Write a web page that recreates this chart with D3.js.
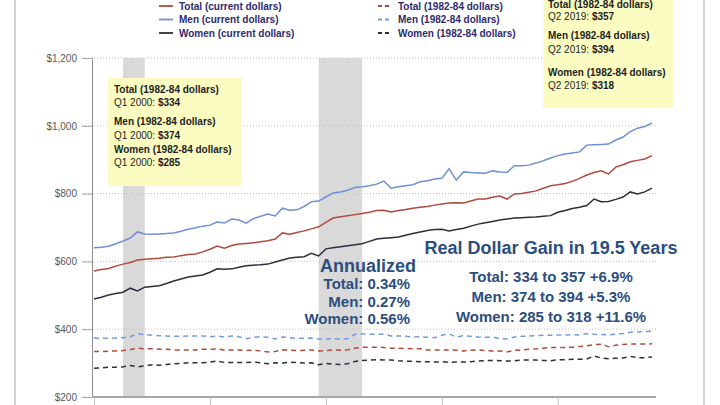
<!DOCTYPE html>
<html><head><meta charset="utf-8">
<script src="https://cdn.jsdelivr.net/npm/d3@7"></script>
<style>html,body{margin:0;padding:0;background:#fff;}svg{display:block;}</style>
</head><body>
<svg id="c" width="720" height="405"></svg>
<script>
// ---- DATA ----
const quarters = [];
for (let y = 2000; y <= 2019; y++) for (let q = 1; q <= 4; q++) if (!(y === 2019 && q > 2)) quarters.push(y + " Q" + q);

const totalCurrent = [572,576,579,586,592,597,604,606,608,609,612,613,617,620,622,628,636,645,639,647,651,653,655,658,661,666,684,680,685,690,696,702,715,728,732,735,738,741,745,750,751,746,750,753,757,760,762,766,769,772,773,772,778,784,784,789,793,784,799,800,804,808,816,823,826,830,836,845,855,862,867,858,878,885,894,898,902,912];
const menCurrent = [640,642,645,652,660,669,687,681,680,681,682,684,689,695,699,704,707,716,713,725,722,713,726,733,740,734,757,751,752,762,776,778,790,802,805,810,818,820,823,828,837,816,820,823,826,835,838,843,845,873,840,864,862,861,860,867,864,863,882,882,884,890,897,905,912,917,920,923,943,944,945,946,958,967,983,993,998,1008];
const womenCurrent = [489,494,501,505,509,521,513,524,526,528,535,542,548,554,557,560,568,578,577,578,583,587,589,590,592,598,604,610,612,614,624,616,637,640,643,646,649,652,659,666,668,670,672,677,682,687,691,694,695,690,694,698,704,710,714,718,722,725,728,729,730,731,733,735,745,750,756,760,765,784,776,777,783,790,805,799,805,816];
const totalReal = [334,334,335,336,337,340,344,342,342,341,341,339,339,339,339,341,341,342,338,339,339,337,338,336,333,334,339,338,337,338,339,336,337,339,338,339,344,347,347,347,346,344,344,343,342,342,339,339,339,339,338,336,338,339,337,336,336,333,338,339,341,342,344,346,346,346,347,349,351,354,356,348,353,355,356,356,356,357];
const menReal = [374,373,373,374,375,378,387,384,382,381,380,379,379,380,380,380,378,380,377,380,378,372,376,378,376,371,377,375,373,373,374,371,371,372,371,372,385,386,385,385,386,380,380,379,377,378,376,375,382,386,377,381,379,377,376,376,373,371,377,379,380,381,382,382,383,383,384,383,387,385,384,383,385,387,391,392,393,394];
const womenReal = [285,286,288,288,289,293,289,292,295,294,296,298,299,301,301,301,303,306,302,302,302,302,303,301,298,301,300,303,302,300,301,295,299,297,296,298,305,308,309,310,309,309,307,306,305,304,304,303,304,302,303,303,304,306,307,308,307,306,307,309,309,309,308,307,310,310,311,311,312,321,315,313,314,315,320,316,316,318];

const yTicks = [200, 400, 600, 800, 1000, 1200];
const xTickQuarters = ["2000 Q1", "2004 Q1", "2008 Q1", "2012 Q1", "2016 Q1"];
const recessions = [["2001 Q1", "2001 Q4"], ["2007 Q4", "2009 Q2"]];

const seriesNames = ["Total (current dollars)", "Men (current dollars)", "Women (current dollars)",
                     "Total (1982-84 dollars)", "Men (1982-84 dollars)", "Women (1982-84 dollars)"];
const seriesValues = [totalCurrent, menCurrent, womenCurrent, totalReal, menReal, womenReal];

const startNotes = [["Total (1982-84 dollars)", "Q1 2000: ", "$334"], ["Men (1982-84 dollars)", "Q1 2000: ", "$374"], ["Women (1982-84 dollars)", "Q1 2000: ", "$285"]];
const endNotes = [["Total (1982-84 dollars)", "Q2 2019: ", "$357"], ["Men (1982-84 dollars)", "Q2 2019: ", "$394"], ["Women (1982-84 dollars)", "Q2 2019: ", "$318"]];
const annualTitle = "Annualized";
const annualLines = ["Total: 0.34%", "Men: 0.27%", "Women: 0.56%"];
const gainTitle = "Real Dollar Gain in 19.5 Years";
const gainLines = ["Total: 334 to 357 +6.9%", "Men: 374 to 394 +5.3%", "Women: 285 to 318 +11.6%"];

// ---- STYLE ----
const colors = ["#b04a3c", "#6d90d6", "#2b2f3b", "#b04a3c", "#7b98d6", "#2b2f3b"];
const dashed = [false, false, false, true, true, true];
const font = "'Liberation Sans', Arial, sans-serif";
const navy = "#2e2b6c";
const blueText = "#2c4e7d";

const svg = d3.select("#c");
const x = d3.scalePoint().domain(quarters).range([94, 652]);
const y = d3.scaleLinear().domain([200, 1200]).range([397, 58]);

// outer frame lines
svg.append("line").attr("x1", 15).attr("x2", 15).attr("y1", 0).attr("y2", 405).attr("stroke", "#c4c4c4").attr("stroke-width", 1.5);
svg.append("line").attr("x1", 704).attr("x2", 704).attr("y1", 0).attr("y2", 405).attr("stroke", "#c4c4c4").attr("stroke-width", 1.5);

// recession shading
svg.append("g").selectAll("rect").data(recessions).join("rect")
  .attr("x", d => x(d[0])).attr("width", d => x(d[1]) - x(d[0]))
  .attr("y", y(1200)).attr("height", y(200) - y(1200)).attr("fill", "#d9d9d9");

// grid
svg.append("g").selectAll("line").data(yTicks.filter(v => v > 200)).join("line")
  .attr("x1", 82).attr("x2", 656).attr("y1", d => y(d)).attr("y2", d => y(d))
  .attr("stroke", "#c0c0c0").attr("stroke-dasharray", "1,2");

// y axis
const yAxis = svg.append("g").attr("transform", "translate(92,0)")
  .call(d3.axisLeft(y).tickValues(yTicks).tickSize(10).tickPadding(5).tickFormat(d => "$" + d3.format(",")(d)));
yAxis.select(".domain").attr("stroke", "#8c8c8c");
yAxis.selectAll(".tick line").attr("stroke", "#a6a6a6");
yAxis.selectAll("text").attr("font-family", font).attr("font-size", 10).attr("fill", "#595959");

// x axis
const xAxis = svg.append("g").attr("transform", "translate(0,397)")
  .call(d3.axisBottom(x).tickValues(xTickQuarters).tickSize(10).tickSizeOuter(0).tickFormat(""));
xAxis.select(".domain").attr("stroke", "#a6a6a6").attr("stroke-width", 2).attr("d", "M92,0H656");
xAxis.selectAll(".tick line").attr("stroke", "#bfbfbf");

// lines
const line = d3.line().x((d, i) => x(quarters[i])).y(d => y(d));
svg.append("g").selectAll("path").data(seriesValues).join("path")
  .attr("d", d => line(d)).attr("fill", "none")
  .attr("stroke", (d, i) => colors[i]).attr("stroke-width", 1.5)
  .attr("stroke-dasharray", (d, i) => dashed[i] ? "5,4" : null);

// legend
const leg = svg.append("g");
seriesNames.forEach((n, i) => {
  const col = Math.floor(i / 3), row = i % 3;
  const lx = col === 0 ? 159 : 378, ly = 6 + row * 13.5;
  leg.append("line").attr("x1", lx).attr("x2", lx + 14).attr("y1", ly).attr("y2", ly)
    .attr("stroke", colors[i]).attr("stroke-width", 1.8).attr("stroke-dasharray", dashed[i] ? "4,3" : null);
  leg.append("text").attr("x", lx + 20).attr("y", ly + 3.5).text(n)
    .attr("font-family", font).attr("font-size", 10).attr("font-weight", "bold").attr("fill", navy);
});

// yellow note boxes
function noteBox(x0, y0, w, h, notes, ys, tx) {
  const g = svg.append("g");
  g.append("rect").attr("x", x0).attr("y", y0).attr("width", w).attr("height", h).attr("fill", "#fbfcc2");
  notes.forEach((n, i) => {
    g.append("text").attr("x", tx).attr("y", ys[i * 2] + 3.5).text(n[0])
      .attr("font-family", font).attr("font-size", 10).attr("font-weight", "bold").attr("fill", "#1e1e1e");
    const t = g.append("text").attr("x", tx).attr("y", ys[i * 2 + 1] + 3.5)
      .attr("font-family", font).attr("font-size", 10).attr("fill", "#1e1e1e");
    t.append("tspan").text(n[1]);
    t.append("tspan").attr("font-weight", "bold").text(n[2]);
  });
}
noteBox(108, 78, 134, 108, startNotes, [89, 102, 121, 135, 149, 162], 114);
noteBox(543, -5, 130, 113, endNotes, [4, 16, 35, 49, 72, 85], 548);

// annotation texts
svg.append("text").attr("x", 368).attr("y", 272).attr("text-anchor", "middle").text(annualTitle)
  .attr("font-family", font).attr("font-size", 18).attr("font-weight", "bold").attr("fill", blueText);
annualLines.forEach((t, i) => {
  svg.append("text").attr("x", 410).attr("y", 289 + i * 17.5).attr("text-anchor", "end").text(t)
    .attr("font-family", font).attr("font-size", 15).attr("font-weight", "bold").attr("fill", blueText);
});
svg.append("text").attr("x", 551).attr("y", 254).attr("text-anchor", "middle").text(gainTitle)
  .attr("font-family", font).attr("font-size", 18).attr("font-weight", "bold").attr("fill", blueText);
gainLines.forEach((t, i) => {
  svg.append("text").attr("x", 551).attr("y", 282 + i * 20).attr("text-anchor", "middle").text(t)
    .attr("font-family", font).attr("font-size", 15).attr("font-weight", "bold").attr("fill", blueText);
});
</script>
</body></html>
